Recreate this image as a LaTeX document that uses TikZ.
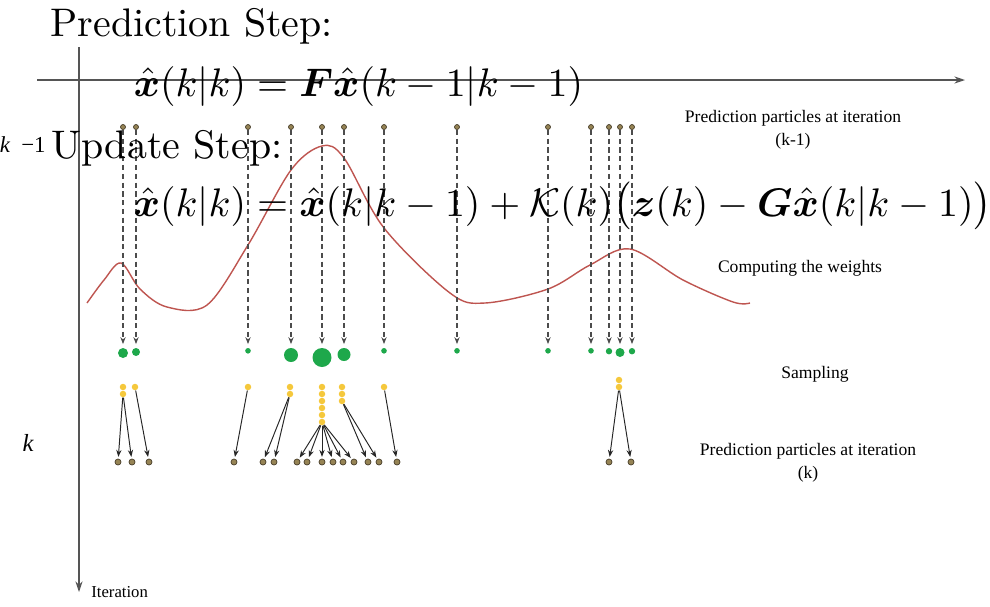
\documentclass[tikz,border=0pt]{standalone}
\usepackage{amsmath,amssymb,bm}
\usepackage{fontspec}
\newfontfamily\tnr{Liberation Serif}
\usetikzlibrary{arrows.meta}
\definecolor{axisgray}{RGB}{85,85,85}
\definecolor{wgreen}{RGB}{30,168,75}
\definecolor{sgold}{RGB}{245,200,60}
\definecolor{polive}{RGB}{150,132,85}
\definecolor{pdark}{RGB}{70,60,40}
\definecolor{wred}{RGB}{190,85,80}

\begin{document}
\begin{tikzpicture}[x=0.02cm,y=-0.02cm,
  prt/.style={circle,draw=pdark,fill=polive,line width=0.4pt,inner sep=0,minimum size=0.1cm},
  wgt/.style={circle,fill=wgreen,inner sep=0},
  smp/.style={circle,fill=sgold,inner sep=0,minimum size=0.13cm},
  wire/.style={densely dashed,black!70,line width=0.65pt,shorten >=2pt,-{Stealth[length=4pt,width=3pt]}},
  link/.style={black!85,line width=0.55pt,shorten >=1pt,-{Stealth[length=4pt,width=3pt]}},
  lbl/.style={font=\tnr\fontsize{10}{13}\selectfont,align=center,inner sep=0},
  eqn/.style={anchor=base west,scale=2.27,inner sep=0}]
\useasboundingbox (0,0) rectangle (990,606);
% axes
\node[circle,fill=axisgray,inner sep=0,minimum size=0.07cm] (o) at (79,80) {};
\coordinate (xs) at (37,80); \coordinate (xe) at (965,80);
\coordinate (ys) at (79,47); \coordinate (ye) at (79,592);
\draw[axisgray,line width=0.8pt,-{Stealth[length=6pt,width=4pt]}] (xs) -- (xe);
\draw[axisgray,line width=0.8pt,-{Stealth[length=6pt,width=4pt]}] (ys) -- (ye);
\node[font=\tnr\fontsize{9.5}{11}\selectfont,anchor=west,inner sep=0] (iter) at (91,592) {Iteration};
\node[font=\tnr\fontsize{13}{15}\selectfont,anchor=east,inner sep=0] (km1) at (46,145) {\itshape k\upshape\ \ −1};
\node[font=\tnr\itshape\fontsize{14}{16}\selectfont,inner sep=0] (kk) at (28,443) {k};
% weight curve
\draw[wred,line width=0.8pt] plot[smooth,tension=0.55] coordinates {(87,303) (104,280) (121,263) (140,289) (167,307) (207,305) (248,245) (291,170) (322,146) (344,158) (384,228) (450,293) (485,303) (548,289) (590,265) (630,249) (683,280) (733,302) (750,303)};
% particles k-1 and their weights
\foreach \i/\x/\r in {1/123/5,2/136/4,3/248/2.8,4/291/7,5/322/9.5,6/344/6.5,7/384/2.8,8/457/2.8,9/548/2.8,10/591/2.8,11/609/3.2,12/620/4.5,13/632/3.2}{
  \node[prt] (t\i) at (\x,127) {};
  \node[wgt,minimum size=\r*0.04cm] (w\i) at (\x,348+\r) {};
  \draw[wire] (t\i) -- (w\i);
}
% resampled copies
\foreach \k/\x/\n/\y in {1/123/2/387,2/135/1/387,3/248/1/387,4/290/2/387,5/322/6/387,6/342/3/387,7/384/1/387,8/619/2/380}{
  \foreach \j in {1,...,\n}{\node[smp] (s\k-\j) at (\x,\y+7*\j-7) {};}
}
% particles k
\foreach \x/\src [count=\m] in {118/s1-2,132/s1-2,149/s2-1,234/s3-1,263/s4-2,274/s4-2,297/s5-6,307/s5-6,322/s5-6,333/s5-6,343/s5-6,354/s5-6,368/s6-3,379/s6-3,397/s7-1,609/s8-2,631/s8-2}{
  \node[prt,minimum size=0.12cm] (b\m) at (\x,462) {};
  \draw[link] (\src) -- (b\m);
}
% step labels
\node[lbl] (lprev) at (793,130) {Prediction particles at iteration\\(k-1)};
\node[lbl] (lweight) at (800,268) {Computing the weights};
\node[lbl] (lsamp) at (815,374) {Sampling};
\node[lbl] (lnext) at (808,463) {Prediction particles at iteration\\(k)};
% equations on top
\node[eqn] (pred) at (50,36) {Prediction Step:};
\node[eqn] (predeq) at (133,96) {$\hat{\bm x}(k|k)=\bm F\hat{\bm x}(k-1|k-1)$};
\node[eqn] (upd) at (51,158) {Update Step:};
\node[eqn] (updeq) at (133,216) {$\hat{\bm x}(k|k)=\hat{\bm x}(k|k-1)+\mathcal{K}(k)\bigl(\bm z(k)-\bm G\hat{\bm x}(k|k-1)\bigr)$};
\end{tikzpicture}
\end{document}
